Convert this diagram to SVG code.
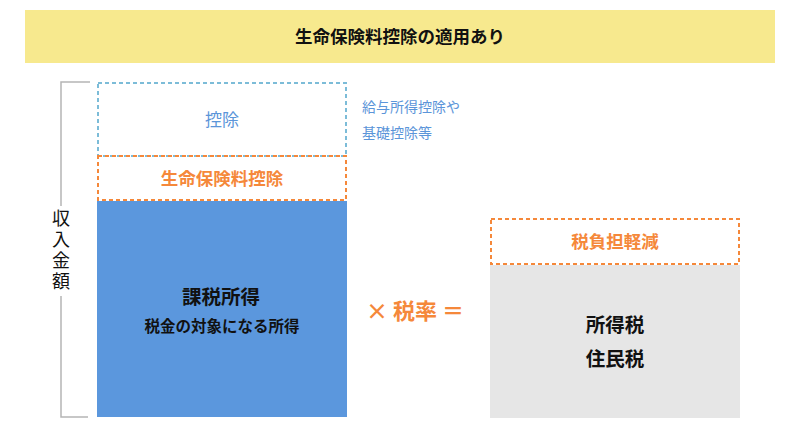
<svg xmlns="http://www.w3.org/2000/svg" width="800" height="430" viewBox="0 0 800 430">
<style>
text{font-family:"Noto Sans CJK JP","Noto Sans",sans-serif;text-anchor:middle;}
.dk{fill:#111;}
.bl{fill:#5b95d9;}
.or{fill:#f5883a;}
.dashO{fill:none;stroke:#f5883a;stroke-width:2;stroke-dasharray:4 3;}
.dashB{fill:none;stroke:#7cbcd8;stroke-width:2;stroke-dasharray:4 3;}
</style>
<rect width="800" height="430" fill="#fff"/>
<g id="header">
<rect x="25" y="10" width="750" height="53" fill="#f7e98e"/>
<text x="400" y="43" font-size="17.5" font-weight="bold" class="dk">生命保険料控除の適用あり</text>
</g>
<g id="connectors">
<polyline points="90,82 61,82 61,206" fill="none" stroke="#b5b5b5" stroke-width="1.5"/>
<polyline points="61,296 61,417 88,417" fill="none" stroke="#b5b5b5" stroke-width="1.5"/>
</g>
<g id="income-label">
<text x="61" y="209" font-size="18" class="dk" style="writing-mode:vertical-rl;text-anchor:start;letter-spacing:3px">収入金額</text>
</g>
<g id="deduction">
<rect x="98" y="83" width="248" height="73" class="dashB"/>
<text x="222" y="126" font-size="17" class="bl">控除</text>
</g>
<g id="deduction-note">
<text x="362" y="112" font-size="14" class="bl" style="text-anchor:start">給与所得控除や</text>
<text x="362" y="138" font-size="14" class="bl" style="text-anchor:start">基礎控除等</text>
</g>
<g id="life-insurance">
<rect x="98" y="156" width="248" height="44" class="dashO"/>
<text x="222" y="185" font-size="17.5" font-weight="bold" class="or">生命保険料控除</text>
</g>
<g id="taxable-income">
<rect x="97" y="201" width="250" height="216" fill="#5b97dd"/>
<text x="221" y="304" font-size="19.5" font-weight="bold" class="dk">課税所得</text>
<text x="222" y="332" font-size="15.5" font-weight="bold" class="dk">税金の対象になる所得</text>
</g>
<g id="operator">
<text x="415" y="319" font-size="22" font-weight="bold" class="or">× 税率 ＝</text>
</g>
<g id="tax-reduction">
<rect x="491" y="219" width="248" height="45" class="dashO"/>
<text x="615" y="248" font-size="17.5" font-weight="bold" class="or">税負担軽減</text>
</g>
<g id="tax">
<rect x="490" y="265" width="250" height="153" fill="#e6e6e6"/>
<text x="615" y="332" font-size="19.5" font-weight="bold" class="dk">所得税</text>
<text x="615" y="366" font-size="19.5" font-weight="bold" class="dk">住民税</text>
</g>
</svg>
